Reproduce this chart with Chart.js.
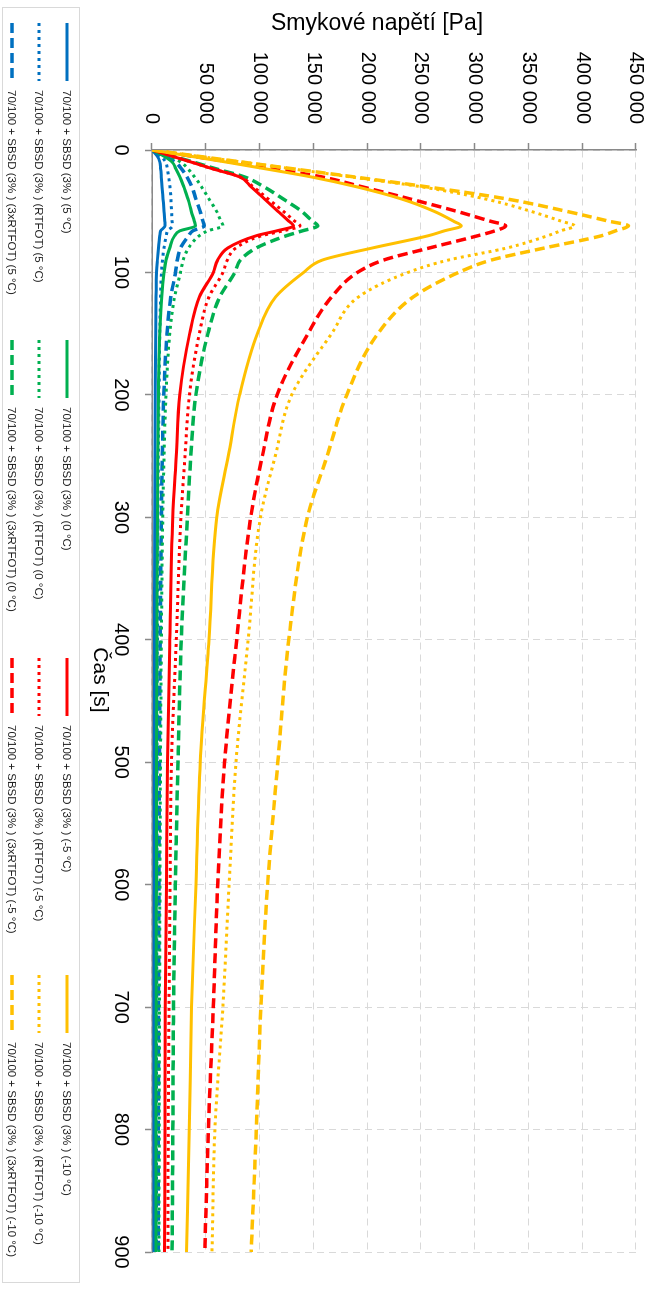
<!DOCTYPE html>
<html>
<head>
<meta charset="utf-8">
<script src="https://cdn.jsdelivr.net/npm/chart.js@4.4.1/dist/chart.umd.min.js"></script>
<style>
    html, body { margin: 0; padding: 0; background: #fff; overflow: hidden; }
    /* the chart is drawn landscape and turned a quarter clockwise */
    #wrap {
        position: absolute; left: 0; top: 0;
        width: 1289px; height: 667px;
        transform-origin: 0 0;
        transform: translateX(667px) rotate(90deg);
    }
</style>
</head>
<body>
<div id="wrap"><canvas id="chart" width="1289" height="667"></canvas></div>
<script>
const xTitle = "Čas [s]";
const yTitle = "Smykové napětí [Pa]";

const times = [0, 5, 10, 15, 22, 30, 40, 50, 58, 62, 66, 70, 80, 90, 100, 120, 150, 200, 250, 300, 400, 500, 600, 700, 800, 900];

// 5 °C
const plus5 = [0, 5000, 7300, 8000, 8700, 9400, 10300, 11200, 11900, 12200, 8000, 7300, 6000, 5000, 4200, 3800, 3400, 3000, 2700, 2500, 2300, 2100, 2000, 1900, 1800, 1800];
const plus5Rtfot = [0, 8000, 12800, 14200, 15500, 16700, 17600, 18200, 18700, 18900, 14500, 13300, 11200, 9700, 8800, 8000, 7200, 6500, 5900, 5500, 5000, 4700, 4500, 4300, 4200, 4100];
const plus5Rtfot3 = [0, 12000, 21900, 27000, 32500, 37100, 40800, 44800, 47300, 48500, 38000, 34100, 26500, 23500, 21900, 17500, 14000, 11000, 9600, 8700, 7600, 6900, 6500, 6100, 5900, 5700];
// 0 °C
const zero = [0, 11000, 18800, 22000, 26000, 29500, 33500, 36500, 39300, 40500, 26000, 21000, 16500, 13000, 11200, 9000, 7300, 6000, 5400, 5000, 4600, 4300, 4100, 3900, 3800, 3700];
const zeroRtfot = [0, 16000, 27000, 33000, 39500, 46000, 53000, 60000, 64000, 66000, 52000, 44000, 34000, 29000, 26500, 21000, 16500, 13000, 11200, 10000, 8700, 7900, 7400, 7000, 6700, 6500];
const zeroRtfot3 = [0, 19000, 39000, 58000, 86000, 104000, 122000, 139000, 149000, 154000, 140000, 125000, 97000, 82000, 77000, 63000, 52000, 40800, 36100, 32900, 27200, 24200, 21700, 20000, 19400, 18700];
// -5 °C
const minus5 = [0, 18500, 37000, 55000, 81500, 92000, 104500, 117000, 127000, 131600, 116000, 97000, 70500, 61000, 57000, 44000, 35000, 25800, 22600, 19400, 16600, 14400, 13500, 12400, 12000, 11700];
const minus5Rtfot = [0, 18500, 37000, 55000, 82000, 94000, 108000, 122000, 132500, 137500, 122000, 102000, 78000, 70000, 66000, 53000, 44000, 34800, 30700, 26900, 22600, 18100, 16800, 15800, 15100, 14800];
const minus5Rtfot3 = [0, 37000, 75000, 110000, 158000, 195000, 240000, 283000, 314000, 329000, 319000, 303000, 258000, 215000, 191000, 167000, 145000, 116300, 102600, 91800, 78700, 67500, 61100, 57000, 52400, 49100];
// -10 °C
const minus10 = [0, 35000, 70000, 103000, 148000, 190000, 232000, 262000, 280000, 287600, 272000, 257000, 205000, 158000, 141000, 115000, 98000, 81500, 70900, 60100, 53000, 44800, 40800, 36800, 34700, 32100];
const minus10Rtfot = [0, 42000, 85000, 127000, 185000, 250000, 310000, 352000, 380000, 393000, 380000, 368000, 330000, 275000, 238000, 192000, 167000, 129900, 114600, 100800, 89400, 78100, 71700, 65900, 58500, 55800];
const minus10Rtfot3 = [0, 42000, 85000, 128000, 188000, 255000, 330000, 385000, 424000, 443000, 431000, 418000, 365000, 315000, 285000, 243000, 210000, 181100, 162800, 144500, 127200, 117000, 107500, 101200, 97000, 92200];

const xTicks = { min: 0, max: 900, step: 100 };
const yTicks = { min: 0, max: 450000, step: 50000 };

const colors = { blue: '#0070C0', green: '#00B050', red: '#FF0000', yellow: '#FFC000' };
const styles = {
    solid: { dash: [], width: 3 },
    dotted: { dash: [3, 4], width: 3 },
    dashed: { dash: [10, 5], width: 3.5 }
};

const series = [
    { label: "70/100 + SBSD (3% ) (5 °C)", values: plus5, color: 'blue', style: 'solid', col: 0, row: 0 },
    { label: "70/100 + SBSD (3% ) (RTFOT) (5 °C)", values: plus5Rtfot, color: 'blue', style: 'dotted', col: 0, row: 1 },
    { label: "70/100 + SBSD (3% ) (3xRTFOT) (5 °C)", values: plus5Rtfot3, color: 'blue', style: 'dashed', col: 0, row: 2 },
    { label: "70/100 + SBSD (3% ) (0 °C)", values: zero, color: 'green', style: 'solid', col: 1, row: 0 },
    { label: "70/100 + SBSD (3% ) (RTFOT) (0 °C)", values: zeroRtfot, color: 'green', style: 'dotted', col: 1, row: 1 },
    { label: "70/100 + SBSD (3% ) (3xRTFOT) (0 °C)", values: zeroRtfot3, color: 'green', style: 'dashed', col: 1, row: 2 },
    { label: "70/100 + SBSD (3% ) (-5 °C)", values: minus5, color: 'red', style: 'solid', col: 2, row: 0 },
    { label: "70/100 + SBSD (3% ) (RTFOT) (-5 °C)", values: minus5Rtfot, color: 'red', style: 'dotted', col: 2, row: 1 },
    { label: "70/100 + SBSD (3% ) (3xRTFOT) (-5 °C)", values: minus5Rtfot3, color: 'red', style: 'dashed', col: 2, row: 2 },
    { label: "70/100 + SBSD (3% ) (-10 °C)", values: minus10, color: 'yellow', style: 'solid', col: 3, row: 0 },
    { label: "70/100 + SBSD (3% ) (RTFOT) (-10 °C)", values: minus10Rtfot, color: 'yellow', style: 'dotted', col: 3, row: 1 },
    { label: "70/100 + SBSD (3% ) (3xRTFOT) (-10 °C)", values: minus10Rtfot3, color: 'yellow', style: 'dashed', col: 3, row: 2 }
];

const fontFamily = '"Liberation Sans", Arial, sans-serif';
Chart.defaults.font.family = fontFamily;

function formatPa(value) {
    return String(value).replace(/\B(?=(\d{3})+(?!\d))/g, ' ');
}

// legend grid + axis titles, drawn straight on the canvas
const legendAndTitles = {
    id: 'legendAndTitles',
    afterDraw(chart) {
        const ctx = chart.ctx;
        const colX = [23, 340, 658, 975];
        const rowY = [600, 628, 655];

        ctx.save();
        ctx.fillStyle = '#000';
        ctx.textAlign = 'center';
        ctx.textBaseline = 'middle';

        ctx.save();
        ctx.font = '23px ' + fontFamily;
        ctx.translate(24, 290);
        ctx.rotate(-Math.PI / 2);
        ctx.fillText(yTitle, 0, 0);
        ctx.restore();

        ctx.font = '21px ' + fontFamily;
        ctx.fillText(xTitle, 680, 567);

        ctx.strokeStyle = '#d9d9d9';
        ctx.lineWidth = 1;
        ctx.strokeRect(7.5, 587.5, 1275, 77);

        ctx.font = '11.5px ' + fontFamily;
        ctx.textAlign = 'left';
        chart.data.datasets.forEach(ds => {
            const x = colX[ds.legendCol];
            const y = rowY[ds.legendRow];
            ctx.beginPath();
            ctx.setLineDash(ds.borderDash);
            ctx.strokeStyle = ds.borderColor;
            ctx.lineWidth = ds.borderWidth;
            ctx.moveTo(x, y);
            ctx.lineTo(x + 58, y);
            ctx.stroke();
            ctx.setLineDash([]);
            ctx.fillStyle = '#222';
            ctx.fillText(ds.label, x + 67, y + 1);
        });
        ctx.restore();
    }
};

const datasets = series.map(s => ({
    label: s.label,
    data: times.map((t, i) => ({ x: t, y: s.values[i] })),
    borderColor: colors[s.color],
    backgroundColor: colors[s.color],
    borderWidth: styles[s.style].width,
    borderDash: styles[s.style].dash,
    borderJoinStyle: 'round',
    cubicInterpolationMode: 'monotone',
    pointRadius: 0,
    fill: false,
    legendCol: s.col,
    legendRow: s.row
})).reverse();

new Chart(document.getElementById('chart'), {
    type: 'line',
    data: { datasets: datasets },
    options: {
        responsive: false,
        animation: false,
        events: [],
        layout: { padding: { top: 22, right: 37, bottom: 0, left: 0 } },
        plugins: {
            legend: { display: false },
            tooltip: { enabled: false }
        },
        scales: {
            x: {
                type: 'linear',
                min: xTicks.min,
                max: xTicks.max,
                ticks: { stepSize: xTicks.step, padding: 12, color: '#000', maxRotation: 0, font: { size: 20 } },
                grid: { color: '#d9d9d9', tickColor: '#898989', tickLength: 7, tickWidth: 1.5 },
                border: { color: '#898989', width: 1.5, dash: [7, 5] },
                afterFit(scale) { scale.height = 152; }
            },
            y: {
                type: 'linear',
                min: yTicks.min,
                max: yTicks.max,
                ticks: { stepSize: yTicks.step, padding: 19, color: '#000', font: { size: 20 }, callback: formatPa },
                grid: { color: '#d9d9d9', tickColor: '#898989', tickLength: 7, tickWidth: 1.5 },
                border: { color: '#898989', width: 1.5, dash: [7, 5] },
                afterFit(scale) { scale.width = 150; }
            }
        }
    },
    plugins: [legendAndTitles]
});
</script>
</body>
</html>
